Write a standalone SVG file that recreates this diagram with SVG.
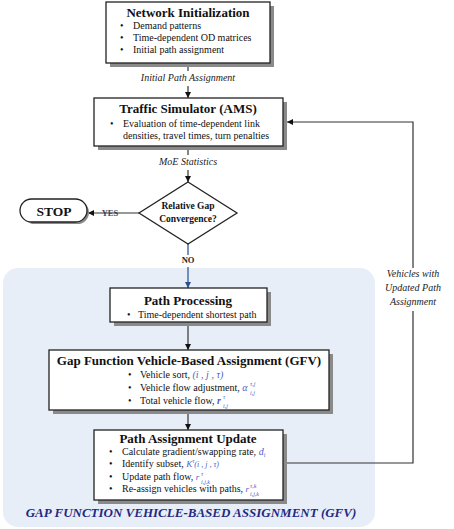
<svg xmlns="http://www.w3.org/2000/svg" width="454" height="529" viewBox="0 0 454 529">
<style>
.box{fill:#fff;stroke:#222;stroke-width:1.3}
.sh{fill:#8a8a8a}
.title{font-family:"Liberation Serif",serif;font-weight:bold;font-size:13px;fill:#111;text-anchor:middle}
.txt{font-family:"Liberation Serif",serif;font-size:10px;fill:#111}
.lbl{font-family:"Liberation Serif",serif;font-style:italic;font-size:10px;fill:#222;text-anchor:middle}
.m{font-family:"Liberation Serif",serif;font-style:italic;fill:#4a5fc8}
.s{font-family:"Liberation Serif",serif;font-style:italic;fill:#4a5fc8;font-size:6px}
.ln{stroke:#333;stroke-width:1.2;fill:none}
</style>
<defs>
<marker id="ah" viewBox="0 0 10 10" refX="10" refY="5" markerWidth="6" markerHeight="6" orient="auto" markerUnits="userSpaceOnUse">
<path d="M0,0 L10,5 L0,10 z" fill="#111"/>
</marker>
<marker id="ahb" viewBox="0 0 10 10" refX="10" refY="5" markerWidth="6" markerHeight="6" orient="auto" markerUnits="userSpaceOnUse">
<path d="M0,0 L10,5 L0,10 z" fill="#2b4f8a"/>
</marker>
</defs>
<rect x="0" y="0" width="454" height="529" fill="#fff"/>
<g id="gfv-region">
<rect x="3" y="268" width="372" height="259" rx="15" fill="#e8eef8"/>
<text x="191" y="517" font-family="Liberation Serif,serif" font-weight="bold" font-style="italic" font-size="13" fill="#1f2a80" text-anchor="middle">GAP FUNCTION VEHICLE-BASED ASSIGNMENT (GFV)</text>
</g>
<g id="connectors">
<line class="ln" x1="188" y1="63" x2="188" y2="71"/>
<line class="ln" x1="188" y1="86" x2="188" y2="98" marker-end="url(#ah)"/>
<text class="lbl" x="188" y="81">Initial Path Assignment</text>
<line class="ln" x1="188" y1="146" x2="188" y2="155"/>
<line class="ln" x1="188" y1="170" x2="188" y2="182" marker-end="url(#ah)"/>
<text class="lbl" x="188" y="165">MoE Statistics</text>
<text x="110" y="216" font-family="Liberation Serif,serif" font-weight="bold" font-size="8.5" fill="#3a4a70" text-anchor="middle">YES</text>
<line class="ln" x1="139" y1="213" x2="88" y2="213" marker-end="url(#ah)"/>
<line x1="188" y1="244" x2="188" y2="255" stroke="#3f64a0" stroke-width="1.4"/>
<line x1="188" y1="267" x2="188" y2="288" stroke="#3f64a0" stroke-width="1.4" marker-end="url(#ahb)"/>
<text x="188" y="263" font-family="Liberation Serif,serif" font-weight="bold" font-size="8.5" fill="#222" text-anchor="middle">NO</text>
<line class="ln" x1="188" y1="322" x2="188" y2="350" marker-end="url(#ah)"/>
<line class="ln" x1="188" y1="410" x2="188" y2="430" marker-end="url(#ah)"/>
<polyline class="ln" points="287,463 413,463 413,311"/>
<polyline class="ln" points="413,268 413,122 287,122" marker-end="url(#ah)"/>
<text class="lbl" x="413" y="277">Vehicles with</text>
<text class="lbl" x="413" y="291">Updated Path</text>
<text class="lbl" x="413" y="305">Assignment</text>
</g>
<g id="network-initialization">
<rect class="sh" x="110" y="6" width="164" height="61"/>
<rect class="box" x="106" y="2" width="164" height="61"/>
<text class="title" x="188" y="17">Network Initialization</text>
<text class="txt" x="120" y="29">•</text><text class="txt" x="133" y="29">Demand patterns</text>
<text class="txt" x="120" y="41">•</text><text class="txt" x="133" y="41">Time-dependent OD matrices</text>
<text class="txt" x="120" y="53">•</text><text class="txt" x="133" y="53">Initial path assignment</text>
</g>
<g id="traffic-simulator">
<rect class="sh" x="98" y="102" width="189" height="48"/>
<rect class="box" x="94" y="98" width="189" height="48"/>
<text class="title" x="188" y="113">Traffic Simulator (AMS)</text>
<text class="txt" x="110" y="127">•</text><text class="txt" x="123" y="127">Evaluation of time-dependent link</text>
<text class="txt" x="123" y="139">densities, travel times, turn penalties</text>
</g>
<g id="convergence">
<polygon points="188,182 237,213 188,244 139,213" fill="#fff" stroke="#222" stroke-width="1.3"/>
<text x="188" y="209" font-family="Liberation Serif,serif" font-weight="bold" font-size="9.5" fill="#111" text-anchor="middle">Relative Gap</text>
<text x="188" y="222" font-family="Liberation Serif,serif" font-weight="bold" font-size="9.5" fill="#111" text-anchor="middle">Convergence?</text>
</g>
<g id="stop">
<rect class="sh" x="23" y="201" width="66" height="23" rx="11.5"/>
<rect class="box" x="20" y="199" width="67" height="23" rx="11.5"/>
<text x="54" y="216" font-family="Liberation Serif,serif" font-weight="bold" font-size="13.5" fill="#111" text-anchor="middle">STOP</text>
</g>
<g id="path-processing">
<rect class="sh" x="114" y="292" width="157" height="34"/>
<rect class="box" x="110" y="288" width="157" height="34"/>
<text class="title" x="188" y="305">Path Processing</text>
<text class="txt" x="127" y="318">•</text><text class="txt" x="138" y="318">Time-dependent shortest path</text>
</g>
<g id="gfv-assignment">
<rect class="sh" x="53" y="354" width="280" height="60"/>
<rect class="box" x="49" y="350" width="280" height="60"/>
<text class="title" x="189" y="365">Gap Function Vehicle-Based Assignment (GFV)</text>
<text class="txt" x="128" y="378">•</text><text class="txt" x="140" y="378">Vehicle sort, <tspan class="m">(i , j , τ)</tspan></text>
<text class="txt" x="128" y="391">•</text><text class="txt" x="140" y="391">Vehicle flow adjustment, <tspan class="m">α</tspan></text>
<text class="s" x="250" y="386">τ,j</text>
<text class="s" x="250" y="394.5">i,j</text>
<text class="txt" x="128" y="404">•</text><text class="txt" x="140" y="404">Total vehicle flow, <tspan class="m" font-weight="bold">r</tspan></text>
<text class="s" x="223" y="399">τ</text>
<text class="s" x="223" y="407.5">i,j</text>
</g>
<g id="path-assignment-update">
<rect class="sh" x="98" y="434" width="189" height="70"/>
<rect class="box" x="94" y="430" width="189" height="70"/>
<text class="title" x="188" y="443">Path Assignment Update</text>
<text class="txt" x="109" y="455">•</text><text class="txt" x="122" y="455">Calculate gradient/swapping rate, <tspan class="m">d</tspan><tspan class="m" font-size="6" dy="2">i</tspan></text>
<text class="txt" x="109" y="467">•</text><text class="txt" x="122" y="467">Identify subset, <tspan class="m" font-size="9">K</tspan><tspan class="m" font-size="6" dy="-4">τ</tspan><tspan class="m" font-size="8" dy="4">(i , j , τ)</tspan></text>
<text class="txt" x="109" y="480">•</text><text class="txt" x="122" y="480">Update path flow, <tspan class="m" font-size="9">r</tspan></text>
<text class="s" x="201" y="475.5">τ</text>
<text class="s" x="201" y="483.5">i,j,k</text>
<text class="txt" x="109" y="492">•</text><text class="txt" x="122" y="492">Re-assign vehicles with paths, <tspan class="m" font-size="9">r</tspan></text>
<text class="s" x="250" y="487.5">τ,k</text>
<text class="s" x="250" y="495.5">i,j,k</text>
</g>
</svg>
